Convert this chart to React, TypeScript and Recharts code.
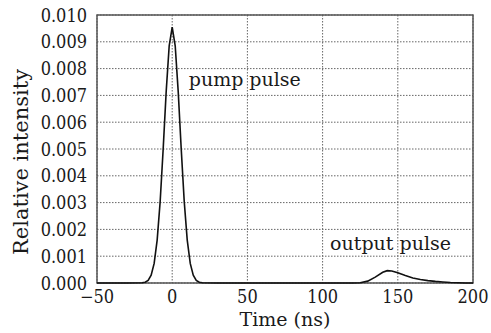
import React from 'react';
import { LineChart, Line, XAxis, YAxis, CartesianGrid, ReferenceArea, ReferenceDot } from 'recharts';

const times = [-50, -30, -20, -18, -16, -14, -12, -10, -8, -6, -4, -2, 0, 2, 4, 6, 8, 10, 12, 14, 16, 18, 20, 30, 60, 100, 120, 125, 130, 135, 140, 143, 146, 150, 155, 160, 165, 170, 175, 180, 185, 190, 195, 200];
const intensity = [0, 0, 0.00001, 0.00003, 0.0001, 0.00029, 0.00073, 0.0016, 0.00304, 0.005, 0.00714, 0.00885, 0.00955, 0.00885, 0.00714, 0.005, 0.00304, 0.0016, 0.00073, 0.00029, 0.0001, 0.00003, 0.00001, 0, 0, 0, 0, 0.00001, 0.00007, 0.00022, 0.0004, 0.00046, 0.00045, 0.00038, 0.00028, 0.00019, 0.00013, 0.00009, 0.00006, 0.00004, 0.00002, 0.00001, 0, 0];
const xTicks = [-50, 0, 50, 100, 150, 200];
const yTicks = [0, 0.001, 0.002, 0.003, 0.004, 0.005, 0.006, 0.007, 0.008, 0.009, 0.01];
const annotations = [
  { label: 'pump pulse', t: 11, v: 0.0076 },
  { label: 'output pulse', t: 105, v: 0.00148 },
];

const data = times.map((t, i) => ({ t, v: intensity[i] }));

const textColor = '#1a1a1a';
const tickFamily = "'DejaVu Serif Condensed', 'DejaVu Serif', serif";
const labelFont = "'DejaVu Serif', serif";

const XTick = (props: any) => {
  const { x, y, payload } = props;
  const s = String(payload.value).replace('-', '\u2212');
  return (
    <text x={x} y={y + 15} textAnchor="middle" style={{ fontFamily: tickFamily, fontStretch: 'condensed' }} fontSize={18} fill={textColor}>
      {s}
    </text>
  );
};

const YTick = (props: any) => {
  const { x, y, payload } = props;
  return (
    <text x={x} y={y + 6.5} textAnchor="end" style={{ fontFamily: tickFamily, fontStretch: 'condensed' }} fontSize={18} fill={textColor}>
      {Number(payload.value).toFixed(3)}
    </text>
  );
};

const YLabel = (props: any) => {
  const vb = props.viewBox || {};
  const cx = (vb.x || 0) + 28;
  const cy = (vb.y || 0) + (vb.height || 0) / 2 + 13;
  return (
    <text x={cx} y={cy} transform={`rotate(-90 ${cx} ${cy})`} textAnchor="middle" style={{ fontFamily: labelFont }} fontSize={21} fill={textColor}>
      Relative intensity
    </text>
  );
};

export default function App() {
  return (
    <div style={{ position: 'absolute', left: 0, top: 0, background: '#fff' }}>
      <LineChart width={491} height={333} data={data} margin={{ top: 15, right: 18, bottom: 0, left: 0 }}>
        <CartesianGrid stroke="#666" strokeDasharray="1.5 1.5" strokeWidth={1} />
        <XAxis
          dataKey="t"
          type="number"
          domain={[-50, 200]}
          ticks={xTicks}
          height={50}
          axisLine={false}
          tickLine={false}
          tickSize={0}
          tickMargin={5}
          tick={<XTick />}
          interval={0}
          label={{ value: 'Time (ns)', position: 'insideBottom', offset: 7, style: { fontFamily: labelFont, fontSize: 19, fill: textColor } }}
        />
        <YAxis
          type="number"
          domain={[0, 0.01]}
          ticks={yTicks}
          width={97}
          axisLine={false}
          tickLine={false}
          tickSize={0}
          tickMargin={10}
          tick={<YTick />}
          interval={0}
          label={<YLabel />}
        />
        <ReferenceArea x1={-50} x2={200} y1={0} y2={0.01} fill="none" stroke="#555" strokeWidth={1.5} fillOpacity={0} />
        <Line type="linear" dataKey="v" stroke="#111" strokeWidth={1.6} dot={false} isAnimationActive={false} />
        {annotations.map((a) => (
          <ReferenceDot
            key={a.label}
            x={a.t}
            y={a.v}
            r={0}
            fill="none"
            stroke="none"
            label={{ value: a.label, position: 'right', offset: 0, style: { fontFamily: labelFont, fontSize: 19, fill: textColor } }}
          />
        ))}
      </LineChart>
    </div>
  );
}
